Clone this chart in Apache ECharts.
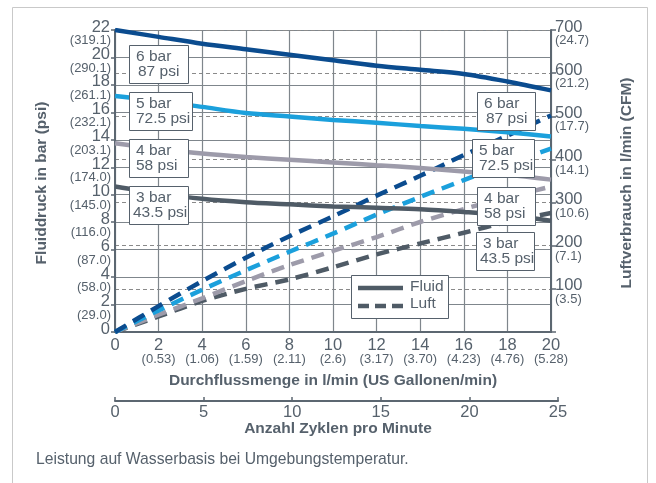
<!DOCTYPE html>
<html><head><meta charset="utf-8">
<script src="https://cdn.jsdelivr.net/npm/echarts@6/dist/echarts.min.js"></script>
<style>html,body{margin:0;padding:0;background:#fff}#c{width:656px;height:483px}</style>
</head><body><div id="c"></div>
<script>
// ---- data ----
const flow = [0, 2, 4, 6, 8, 10, 12, 14, 16, 18, 20];
const flowGalLabels = ['', '(0.53)', '(1.06)', '(1.59)', '(2.11)', '(2.6)', '(3.17)', '(3.70)', '(4.23)', '(4.76)', '(5.28)'];
const psiLabels = ['', '(29.0)', '(58.0)', '(87.0)', '(116.0)', '(145.0)', '(174.0)', '(203.1)', '(232.1)', '(261.1)', '(290.1)', '(319.1)'];
const cfmLabels = ['', '(3.5)', '(7.1)', '(10.6)', '(14.1)', '(17.7)', '(21.2)', '(24.7)'];
const cycleTicks = [0, 5, 10, 15, 20, 25];

const fluid6 = [22, 21.5, 21.0, 20.6, 20.2, 19.8, 19.4, 19.1, 18.8, 18.25, 17.6];
const fluid5 = [17.2, 16.85, 16.4, 15.95, 15.7, 15.45, 15.25, 15.0, 14.8, 14.55, 14.25];
const fluid4 = [13.75, 13.35, 13.0, 12.75, 12.55, 12.35, 12.15, 11.95, 11.7, 11.45, 11.1];
const fluid3 = [10.6, 10.1, 9.7, 9.45, 9.3, 9.15, 9.05, 8.95, 8.75, 8.5, 8.1];

const air6 = [0, 60, 118, 172, 222, 268, 316, 362, 410, 455, 502];
const air5 = [0, 50, 98, 143, 186, 228, 272, 313, 352, 390, 425];
const air4 = [0, 40, 78, 118, 155, 188, 220, 255, 285, 312, 337];
const air3 = [0, 36, 72, 100, 122, 150, 180, 205, 230, 255, 276];

const seriesNames = ['6 bar', '5 bar', '4 bar', '3 bar'];
const boxTexts = [['6 bar', '87 psi'], ['5 bar', '72.5 psi'], ['4 bar', '58 psi'], ['3 bar', '43.5 psi']];

// ---- styling ----
const C6 = '#0b4c8f', C5 = '#1ba0dc', C4 = '#9d9baa', C3 = '#4f5b66';
const TXT = '#56616c', AX = '#5c6771', GRID = '#7f868c';
const FF = '"Liberation Sans", Arial, sans-serif';

function pairs(ys) { return flow.map((x, i) => [x, ys[i]]); }

const richX = {
  n: { fontSize: 16.5, lineHeight: 16, color: TXT, fontFamily: FF },
  p: { fontSize: 13, lineHeight: 13, color: TXT, fontFamily: FF }
};
const richY = {
  n: { fontSize: 16.5, lineHeight: 16, color: TXT, fontFamily: FF },
  s: { fontSize: 6, lineHeight: 6 }
};
const subLabel = { color: TXT, fontFamily: FF, fontSize: 13, lineHeight: 13, padding: [4, 0, 0, 0], verticalAlign: 'top' };

function solid(name, ys, color) {
  return { name: name + ' Fluid', type: 'line', xAxisIndex: 0, yAxisIndex: 0, data: pairs(ys), smooth: 0.3,
    symbol: 'none', lineStyle: { color, width: 4.5 }, z: 5 };
}
function dashed(name, ys, color) {
  return { name: name + ' Luft', type: 'line', xAxisIndex: 0, yAxisIndex: 1, data: pairs(ys), smooth: 0.3,
    symbol: 'none', lineStyle: { color, width: 4.5, type: [13, 8], cap: 'butt' }, z: 4 };
}

function box(x, y, w, lines, dx2) {
  return [
    { type: 'rect', z: 100, shape: { x: x + 0.5, y: y + 0.5, width: w, height: 38 }, style: { fill: '#fff', stroke: TXT, lineWidth: 1 } },
    { type: 'text', z: 101, x: x + 7, y: y + 12, style: { text: lines[0], font: '15.5px ' + FF, fill: TXT, verticalAlign: 'middle' } },
    { type: 'text', z: 101, x: x + 7 + (dx2 || 0), y: y + 27, style: { text: lines[1], font: '15.5px ' + FF, fill: TXT, verticalAlign: 'middle' } }
  ];
}

const hidden = { axisLine: { show: false }, axisTick: { show: false }, splitLine: { show: false } };

const option = {
  animation: false,
  backgroundColor: '#fff',
  grid: [
    { left: 115, top: 30, width: 436, height: 302 },
    { left: 115, top: 400, width: 443, height: 1 }
  ],
  xAxis: [
    { type: 'value', gridIndex: 0, min: 0, max: 20, interval: 2, position: 'bottom',
      axisLine: { show: true, lineStyle: { color: AX, width: 2 } },
      axisTick: { show: false },
      splitLine: { show: true, lineStyle: { color: GRID, width: 1.2 } },
      axisLabel: { margin: 5, showMinLabel: true, showMaxLabel: true, hideOverlap: false,
        formatter: v => { const i = Math.round(v / 2); return v === 0 ? '{n|0}' : '{n|' + v + '}\n{p|' + flowGalLabels[i] + '}'; }, rich: richX } },
    { type: 'value', gridIndex: 1, min: 0, max: 25, interval: 5, position: 'bottom',
      axisLine: { show: true, lineStyle: { color: AX, width: 2 } },
      axisTick: { show: true, inside: true, length: 4, lineStyle: { color: AX, width: 1.5 } },
      splitLine: { show: false },
      axisLabel: { margin: 3, showMinLabel: true, showMaxLabel: true, formatter: v => '{n|' + v + '}', rich: richX } }
  ],
  yAxis: [
    { type: 'value', gridIndex: 0, min: 0, max: 22, interval: 2, position: 'left',
      axisLine: { show: true, lineStyle: { color: AX, width: 2 } },
      axisTick: { show: true, length: 4, lineStyle: { color: AX, width: 1.5 } },
      splitLine: { show: true, lineStyle: { color: GRID, width: 1.2 } },
      axisLabel: { margin: 5, align: 'right', showMinLabel: true, showMaxLabel: true, hideOverlap: false,
        formatter: v => '{n|' + v + '}\n{s| }', rich: richY } },
    { type: 'value', gridIndex: 0, min: 0, max: 700, interval: 100, position: 'right',
      axisLine: { show: true, lineStyle: { color: AX, width: 2 } },
      axisTick: { show: true, length: 5, lineStyle: { color: AX, width: 1.5 } },
      splitLine: { show: true, lineStyle: { color: '#8a8a8a', width: 1, type: [4, 3] } },
      axisLabel: { margin: 4, align: 'left', showMinLabel: true, showMaxLabel: true, hideOverlap: false,
        formatter: v => v === 0 ? '' : '{n|' + v + '}\n{s| }', rich: richY } },
    { type: 'value', gridIndex: 1, min: 0, max: 1, show: false },
    Object.assign({ type: 'value', gridIndex: 0, min: 0, max: 22, interval: 2, position: 'left',
      axisLabel: Object.assign({ margin: 4, align: 'right', showMinLabel: true, showMaxLabel: true, hideOverlap: false,
        formatter: v => psiLabels[Math.round(v / 2)] }, subLabel) }, hidden),
    Object.assign({ type: 'value', gridIndex: 0, min: 0, max: 700, interval: 100, position: 'right',
      axisLabel: Object.assign({ margin: 4, align: 'left', showMinLabel: true, showMaxLabel: true, hideOverlap: false,
        formatter: v => cfmLabels[Math.round(v / 100)] }, subLabel) }, hidden)
  ],
  series: [
    dashed(seriesNames[3], air3, C3), dashed(seriesNames[2], air4, C4), dashed(seriesNames[1], air5, C5), dashed(seriesNames[0], air6, C6),
    solid(seriesNames[3], fluid3, C3), solid(seriesNames[2], fluid4, C4), solid(seriesNames[1], fluid5, C5), solid(seriesNames[0], fluid6, C6)
  ],
  graphic: [
    { type: 'rect', z: -10, shape: { x: 12.5, y: 7.5, width: 635, height: 500 }, style: { fill: 'none', stroke: '#c9c9c9', lineWidth: 1 } },
    { type: 'text', x: 42, y: 183, rotation: Math.PI / 2, style: { text: 'Fluiddruck in bar (psi)', font: 'bold 15.5px ' + FF, fill: TXT, align: 'center', verticalAlign: 'middle' } },
    { type: 'text', x: 627, y: 183, rotation: Math.PI / 2, style: { text: 'Luftverbrauch in l/min (CFM)', font: 'bold 15.5px ' + FF, fill: TXT, align: 'center', verticalAlign: 'middle' } },
    { type: 'text', x: 333, y: 381, style: { text: 'Durchflussmenge in l/min (US Gallonen/min)', font: 'bold 15.5px ' + FF, fill: TXT, align: 'center', verticalAlign: 'middle' } },
    { type: 'text', x: 338, y: 429, style: { text: 'Anzahl Zyklen pro Minute', font: 'bold 15.5px ' + FF, fill: TXT, align: 'center', verticalAlign: 'middle' } },
    { type: 'text', x: 36, y: 460, style: { text: 'Leistung auf Wasserbasis bei Umgebungstemperatur.', font: '15.7px ' + FF, fill: TXT, verticalAlign: 'middle' } },
    ...box(129, 45, 59, boxTexts[0], 2),
    ...box(129, 92, 63, boxTexts[1]),
    ...box(129, 139, 59, boxTexts[2]),
    ...box(129, 186, 59, boxTexts[3], -3),
    ...box(477, 92, 58, boxTexts[0], 2),
    ...box(472, 139, 62, boxTexts[1]),
    ...box(477, 187, 58, boxTexts[2]),
    ...box(476, 232, 58, boxTexts[3], -3),
    { type: 'rect', z: 100, shape: { x: 351.5, y: 275.5, width: 97, height: 43 }, style: { fill: '#fff', stroke: TXT, lineWidth: 1 } },
    { type: 'line', z: 101, shape: { x1: 358, y1: 288, x2: 403, y2: 288 }, style: { stroke: C3, lineWidth: 4.5 } },
    { type: 'line', z: 101, shape: { x1: 358, y1: 306, x2: 403, y2: 306 }, style: { stroke: C3, lineWidth: 4.5, lineDash: [11, 6] } },
    { type: 'text', z: 101, x: 410, y: 287, style: { text: 'Fluid', font: '15.5px ' + FF, fill: TXT, verticalAlign: 'middle' } },
    { type: 'text', z: 101, x: 410, y: 304, style: { text: 'Luft', font: '15.5px ' + FF, fill: TXT, verticalAlign: 'middle' } }
  ]
};
const chart = echarts.init(document.getElementById('c'), null, { renderer: 'canvas' });
chart.setOption(option);
</script></body></html>
